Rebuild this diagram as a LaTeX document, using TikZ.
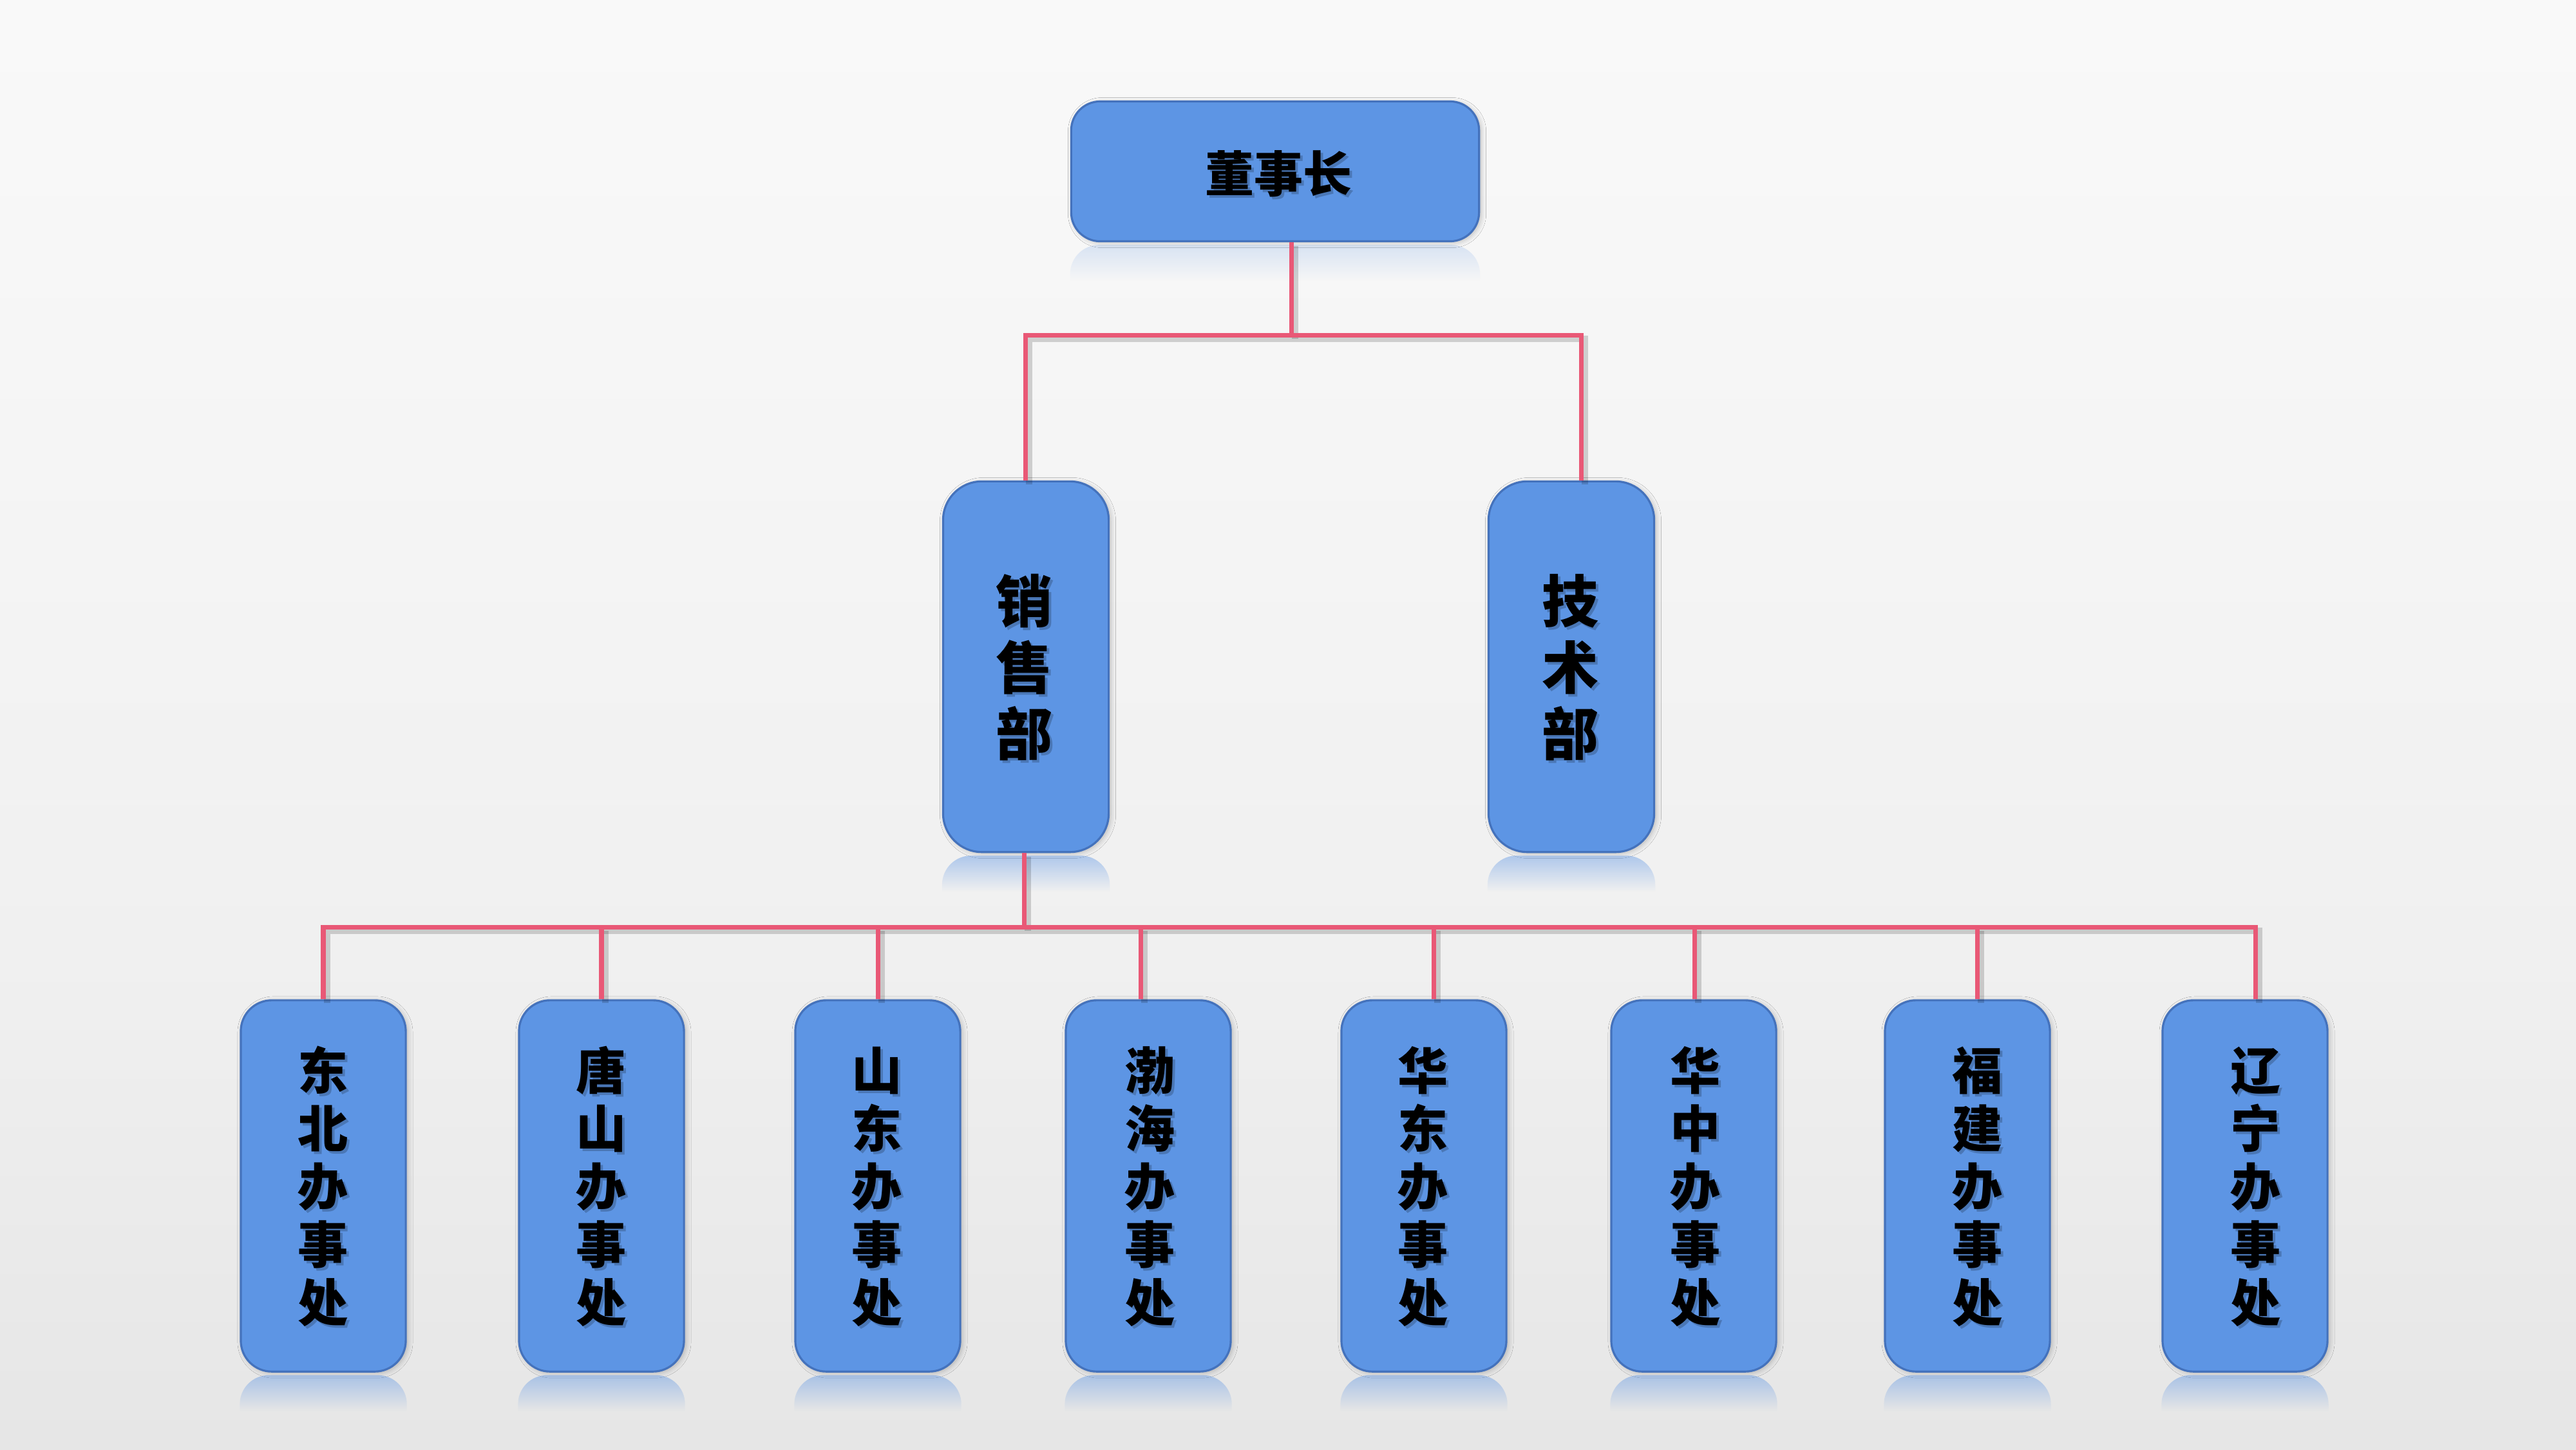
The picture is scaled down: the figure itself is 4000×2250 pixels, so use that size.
\documentclass[tikz,border=0pt]{standalone}
\usepackage{fontspec}
\newfontfamily\cjk{Noto Sans CJK SC}
\usetikzlibrary{fadings,shadows.blur}
\definecolor{boxfill}{RGB}{93,149,228}
\definecolor{boxline}{RGB}{68,114,188}
\definecolor{linkcol}{RGB}{233,88,118}
\definecolor{bgA}{RGB}{215,215,215}
\definecolor{bgB}{RGB}{240,240,240}
\definecolor{bgC}{RGB}{248,248,248}
\definecolor{bgD}{RGB}{254,254,254}
\pgfdeclareverticalshading{bgshade}{100bp}{color(0bp)=(bgA); color(42bp)=(bgB); color(70bp)=(bgC); color(100bp)=(bgD)}
\newcommand\orglabel[4]{%
  \node[#3, text opacity=0.2, xshift=0.04cm, yshift=-0.04cm] (#1s) at (#2) {#4};
  \node[#3] (#1) at (#2) {#4};}
\newcommand\mirrorbox[2]{%
  \fill[boxfill, path fading=south, fill opacity=#2]
    ([yshift=-0.6cm]#1.south west) -- ([yshift=-0.49cm]#1.south west)
    arc[start angle=180, end angle=90, radius=0.45cm] -- ([xshift=-0.45cm, yshift=-0.04cm]#1.south east)
    arc[start angle=90, end angle=0, radius=0.45cm] -- ([yshift=-0.6cm]#1.south east) -- cycle;}
\begin{document}
\begin{tikzpicture}[x=0.01cm,y=-0.01cm,
  orgbox/.style={draw=boxline, line width=0.9pt, fill=boxfill, rounded corners=#1, inner sep=0pt,
     blur shadow={shadow xshift=0.03cm, shadow yshift=-0.02cm, shadow opacity=25, shadow blur radius=0.08cm}},
  topsize/.style={minimum width=6.33cm, minimum height=2.17cm},
  midsize/.style={minimum width=2.57cm, minimum height=5.75cm},
  officesize/.style={minimum width=2.56cm, minimum height=5.76cm},
  link/.style={draw=linkcol, line width=2pt, line join=miter},
  linkshade/.style={draw=black, draw opacity=0.16, line width=3pt, line join=miter,
     transform canvas={shift={(0.06cm,-0.06cm)}}},
  tlbl/.style={font=\cjk\bfseries\fontsize{21.6}{26}\selectfont, inner sep=0pt},
  mlbl/.style={font=\cjk\bfseries\fontsize{25}{29.3}\selectfont, align=center, inner sep=0pt},
  olbl/.style={font=\cjk\bfseries\fontsize{22.2}{25.6}\selectfont, align=center, inner sep=0pt}]

\shade[shading=bgshade] (0,0) rectangle (4000,2250);
\useasboundingbox (0,0) rectangle (4000,2250);

% boxes
\node[orgbox=0.45cm, topsize] (top) at (1980,266) {};
\node[orgbox=0.6cm, midsize] (m1) at (1593,1035) {};
\node[orgbox=0.6cm, midsize] (m2) at (2440,1035) {};
\foreach \i/\x in {1/502,2/934,3/1363,4/1783,5/2211,6/2630,7/3055,8/3486}
  \node[orgbox=0.48cm, officesize] (o\i) at (\x,1841) {};

% reflections
\mirrorbox{top}{0.2}
\mirrorbox{m1}{0.45}
\mirrorbox{m2}{0.45}
\foreach \i in {1,...,8} {\mirrorbox{o\i}{0.45}}

% junction coordinates
\coordinate (j1) at (2005,520);
\coordinate (b1L) at (1592,520);
\coordinate (b1R) at (2455,520);
\coordinate (j2) at (1590,1439);
\foreach \i/\x in {1/502,2/934,3/1363,4/1771,5/2226,6/2631,7/3070,8/3502}
  \coordinate (d\i) at (\x,1439);

% connector shadows
\draw[linkshade] (top.south -| j1) -- (j1);
\draw[linkshade] (m1.north -| b1L) -- (b1L) -- (b1R) -- (m2.north -| b1R);
\draw[linkshade] (m1.south -| j2) -- (j2);
\draw[linkshade] (o1.north -| d1) -- (d1) -- (d8) -- (o8.north -| d8);
\foreach \i in {2,...,7} {\draw[linkshade] (d\i) -- (o\i.north -| d\i);}

% connectors
\draw[link] (top.south -| j1) -- (j1);
\draw[link] (m1.north -| b1L) -- (b1L) -- (b1R) -- (m2.north -| b1R);
\draw[link] (m1.south -| j2) -- (j2);
\draw[link] (o1.north -| d1) -- (d1) -- (d8) -- (o8.north -| d8);
\foreach \i in {2,...,7} {\draw[link] (d\i) -- (o\i.north -| d\i);}

% labels
\orglabel{ttop}{1985,270}{tlbl}{董事长}
\orglabel{tm1}{1590,1036}{mlbl}{销\\售\\部}
\orglabel{tm2}{2438,1036}{mlbl}{技\\术\\部}
\orglabel{to1}{502,1842}{olbl}{东\\北\\办\\事\\处}
\orglabel{to2}{934,1842}{olbl}{唐\\山\\办\\事\\处}
\orglabel{to3}{1362,1842}{olbl}{山\\东\\办\\事\\处}
\orglabel{to4}{1786,1842}{olbl}{渤\\海\\办\\事\\处}
\orglabel{to5}{2210,1842}{olbl}{华\\东\\办\\事\\处}
\orglabel{to6}{2632,1842}{olbl}{华\\中\\办\\事\\处}
\orglabel{to7}{3070,1842}{olbl}{福\\建\\办\\事\\处}
\orglabel{to8}{3502,1842}{olbl}{辽\\宁\\办\\事\\处}
\end{tikzpicture}
\end{document}
